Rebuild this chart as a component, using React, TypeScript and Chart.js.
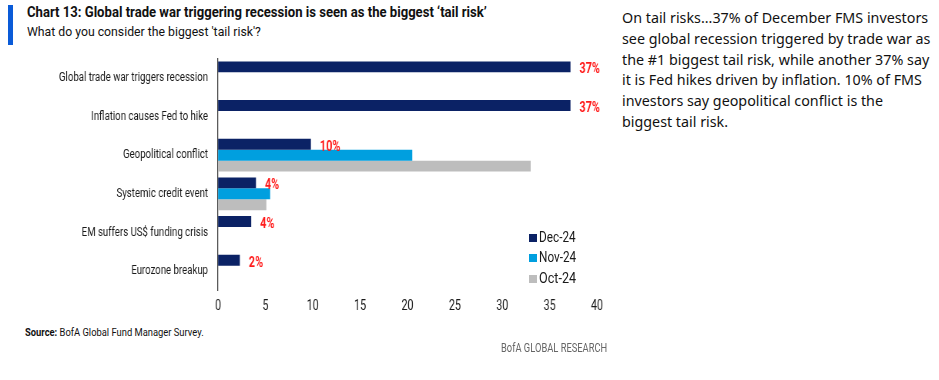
import React, { useEffect, useLayoutEffect, useRef } from "react";
import { Chart, registerables } from "chart.js";

Chart.register(...registerables);

const categories = [
  "Global trade war triggers recession",
  "Inflation causes Fed to hike",
  "Geopolitical conflict",
  "Systemic credit event",
  "EM suffers US$ funding crisis",
  "Eurozone breakup",
];
const seriesNames = ["Dec-24", "Nov-24", "Oct-24"];
const dec24 = [37.2, 37.2, 9.8, 4.0, 3.5, 2.3];
const nov24 = [null, null, 20.5, 5.5, null, null];
const oct24 = [null, null, 33.0, 5.1, null, null];
const decLabels = ["37%", "37%", "10%", "4%", "4%", "2%"];
const xTicks = [0, 5, 10, 15, 20, 25, 30, 35, 40];
const colors = ["#0b2265", "#009fdf", "#bdbdbd"];

const FONT = 'Roboto, "Liberation Sans", sans-serif';
// horizontal compression of the canvas to mimic a condensed typeface
const S = 0.77;
const CW = 610;
const CH = 270;

const labelPlugin = {
  id: "decLabels",
  afterDatasetsDraw(chart: any) {
    const ctx = chart.ctx;
    const meta = chart.getDatasetMeta(0);
    ctx.save();
    ctx.fillStyle = "#ff1a1a";
    ctx.font = `bold 14px ${FONT}`;
    ctx.textBaseline = "middle";
    ctx.textAlign = "left";
    meta.data.forEach((el: any, i: number) => {
      ctx.fillText(decLabels[i], el.x + 9 / S, el.y + 3);
    });
    ctx.restore();
  },
};

function FitText(props: { width: number; style: React.CSSProperties; children: React.ReactNode }) {
  const ref = useRef<HTMLSpanElement | null>(null);
  useLayoutEffect(() => {
    const fit = () => {
      const el = ref.current;
      if (!el) return;
      const w = el.offsetWidth;
      if (w > 0) el.style.transform = `scaleX(${props.width / w})`;
    };
    fit();
    (document as any).fonts?.ready?.then(fit);
  }, [props.width]);
  return (
    <span
      ref={ref}
      style={{ position: "absolute", display: "inline-block", whiteSpace: "nowrap", transformOrigin: "0 0", ...props.style }}
    >
      {props.children}
    </span>
  );
}

export default function App() {
  const ref = useRef<HTMLCanvasElement | null>(null);
  useEffect(() => {
    if (!ref.current) return;
    const chart = new Chart(ref.current, {
      type: "bar",
      data: {
        labels: categories,
        datasets: [
          { label: seriesNames[0], data: dec24, backgroundColor: colors[0] },
          { label: seriesNames[1], data: nov24 as any, backgroundColor: colors[1] },
          { label: seriesNames[2], data: oct24 as any, backgroundColor: colors[2] },
        ],
      },
      options: {
        indexAxis: "y",
        animation: false,
        responsive: false,
        maintainAspectRatio: false,
        devicePixelRatio: 1,
        layout: { padding: { top: 7.5, right: 13 / S, left: 0, bottom: 0 } },
        datasets: { bar: { categoryPercentage: 0.85, barPercentage: 1.0 } },
        plugins: { legend: { display: false }, tooltip: { enabled: false } },
        scales: {
          x: {
            min: 0,
            max: 40,
            afterBuildTicks: (s: any) => {
              s.ticks = xTicks.map((v) => ({ value: v }));
            },
            afterFit: (s: any) => {
              s.height = 30.5;
            },
            grid: { display: false, drawTicks: false },
            border: { display: false },
            ticks: {
              padding: 7.5,
              color: "#1a1a1a",
              font: { family: FONT, size: 14 },
            },
          },
          y: {
            afterFit: (s: any) => {
              s.width = 218 / S;
              s.paddingTop = 0;
              s.paddingBottom = 0;
            },
            grid: { display: false, drawTicks: false },
            border: { display: true, color: "#444", width: 1.3 },
            ticks: {
              padding: 10 / S,
              color: "#1a1a1a",
              font: { family: FONT, size: 12.5 },
            },
          },
        },
      },
      plugins: [labelPlugin],
    });
    return () => chart.destroy();
  }, []);

  return (
    <div style={{ position: "absolute", left: 0, top: 0, width: 939, height: 380, background: "#fff", overflow: "hidden" }}>
      <div style={{ position: "absolute", left: 8, top: 5, width: 5, height: 40, background: "#0a5bd8" }} />
      <FitText width={460} style={{ left: 27, top: 4, fontFamily: FONT, fontWeight: "bold", fontSize: 14.5, color: "#111" }}>
        Chart 13: Global trade war triggering recession is seen as the biggest ‘tail risk’
      </FitText>
      <FitText width={234} style={{ left: 27, top: 23, fontFamily: FONT, fontSize: 13.5, color: "#111" }}>
        What do you consider the biggest 'tail risk'?
      </FitText>
      <canvas
        ref={ref}
        width={Math.round(CW / S)}
        height={CH}
        style={{ position: "absolute", left: 0, top: 51, width: CW, height: CH }}
      />
      {seriesNames.map((n, i) => (
        <div key={n} style={{ position: "absolute", left: 529, top: 238 + i * 20.3 - 4, width: 8, height: 8, background: colors[i] }} />
      ))}
      {seriesNames.map((n, i) => (
        <FitText key={n} width={37} style={{ left: 539, top: 238 + i * 20.3 - 9, fontFamily: FONT, fontSize: 14, lineHeight: "17px", color: "#1a1a1a" }}>
          {n}
        </FitText>
      ))}
      <FitText width={179} style={{ left: 25, top: 326, fontFamily: FONT, fontSize: 11, lineHeight: "14px", color: "#111" }}>
        <b>Source:</b> BofA Global Fund Manager Survey.
      </FitText>
      <FitText width={106} style={{ left: 501, top: 340, fontFamily: FONT, fontSize: 12, lineHeight: "16px", color: "#666" }}>
        BofA GLOBAL RESEARCH
      </FitText>
      <div style={{ position: "absolute", left: 622, top: 8, fontFamily: '"Noto Sans", "Open Sans", sans-serif', fontSize: 14.3, lineHeight: "20.8px", color: "#111", whiteSpace: "nowrap" }}>
        <div>On tail risks...37% of December FMS investors</div>
        <div>see global recession triggered by trade war as</div>
        <div>the #1 biggest tail risk, while another 37% say</div>
        <div>it is Fed hikes driven by inflation. 10% of FMS</div>
        <div>investors say geopolitical conflict is the</div>
        <div>biggest tail risk.</div>
      </div>
    </div>
  );
}
